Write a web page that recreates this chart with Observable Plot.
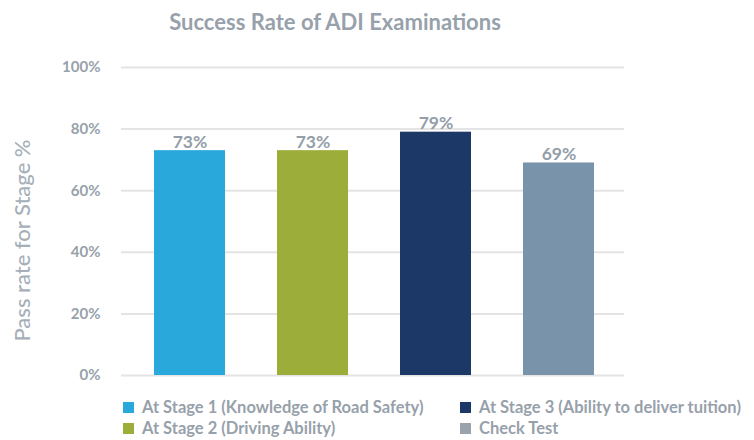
<!DOCTYPE html>
<html>
<head>
<meta charset="utf-8">
<script src="https://cdn.jsdelivr.net/npm/d3@7"></script>
<script src="https://cdn.jsdelivr.net/npm/@observablehq/plot@0.6"></script>
<style>
  body { margin: 0; background: #fff; }
  #wrap { position: relative; width: 754px; height: 440px; font-family: Lato, "Open Sans", sans-serif; color: #9aa4ae; overflow: hidden; }
  #title { position: absolute; left: 0; width: 670px; top: 8px; text-align: center; font-size: 22px; font-weight: 700; color: #97a1ab; }
  #chart { position: absolute; left: 0; top: 0; }
  .leg { position: absolute; font-size: 16.5px; font-weight: 700; color: #97a1ab; white-space: nowrap; line-height: 19px; }
  .leg span.sw { display: inline-block; width: 11px; height: 11px; margin-right: 8px; vertical-align: 0px; }
</style>
</head>
<body>
<div id="wrap">
  <div id="chart"></div>
  <div id="title"></div>
  <div id="legend"></div>
</div>
<script>
const title = "Success Rate of ADI Examinations";
const categories = ["At Stage 1 (Knowledge of Road Safety)", "At Stage 2 (Driving Ability)", "At Stage 3 (Ability to deliver tuition)", "Check Test"];
const values = [73, 73, 79, 69];
const barColors = ["#29a8dc", "#9cad3a", "#1b3866", "#7893aa"];
const legendColors = ["#29a8dc", "#9cad3a", "#1b3866", "#9aa3ab"];
const yTicks = [0, 20, 40, 60, 80, 100];
const yLabel = "Pass rate for Stage %";

const data = categories.map((c, i) => ({category: c, value: values[i], color: barColors[i]}));

document.getElementById("title").textContent = title;

const chart = Plot.plot({
  width: 754,
  height: 390,
  marginTop: 67,
  marginBottom: 15,
  marginLeft: 128,
  marginRight: 134,
  style: {fontFamily: "Lato, 'Open Sans', sans-serif", color: "#9aa4ae", background: "transparent"},
  x: {domain: categories, paddingInner: 0.423, paddingOuter: 0.2115, axis: null},
  y: {domain: [0, 100], ticks: yTicks, axis: null},
  marks: [
    Plot.ruleY(yTicks, {stroke: "#e4e4e4", strokeWidth: 2, insetLeft: -7, insetRight: -4}),
    Plot.barY(data, {x: "category", y: "value", fill: "color"}),
    Plot.text(data, {x: "category", y: "value", text: d => d.value + "%", lineAnchor: "bottom", dy: -3, fill: "#939ea8", fontSize: 17.5, fontWeight: "bold"}),
    Plot.axisY({ticks: yTicks, tickSize: 0, tickPadding: 28, tickFormat: d => d + "%", fontSize: 15, fontWeight: "bold", fill: "#97a1ab", label: null}),
    Plot.text([yLabel], {frameAnchor: "left", textAnchor: "middle", dx: -106, dy: 19, rotate: -90, text: d => d, fontSize: 22, fontWeight: 500, fill: "#a6afb8"})
  ]
});
document.getElementById("chart").appendChild(chart);

const legendPos = [[123, 398], [123, 419], [460, 398], [460, 419]];
const legend = document.getElementById("legend");
categories.forEach((c, i) => {
  const d = document.createElement("div");
  d.className = "leg";
  d.style.left = legendPos[i][0] + "px";
  d.style.top = legendPos[i][1] + "px";
  const sw = document.createElement("span");
  sw.className = "sw";
  sw.style.background = legendColors[i];
  d.appendChild(sw);
  d.appendChild(document.createTextNode(c));
  legend.appendChild(d);
});
</script>
</body>
</html>
